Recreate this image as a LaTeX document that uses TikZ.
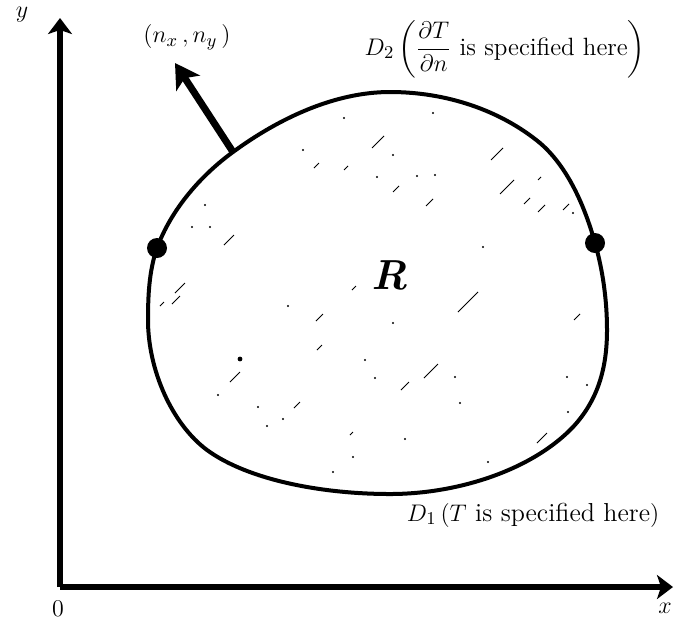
\documentclass[tikz,border=0pt]{standalone}
\usepackage{amsmath}
\usetikzlibrary{arrows.meta, positioning, calc}

\begin{document}
\begin{tikzpicture}[x=0.5pt, y=-0.5pt,
    axis/.style={line width=3pt, -{Stealth[length=8pt, width=12pt, inset=2pt]}},
    boundary/.style={line width=2pt, line join=round},
    normal/.style={line width=3.5pt, -{Stealth[length=12pt, width=14pt, inset=3pt]}},
    bdot/.style={circle, fill, inner sep=0pt, minimum size=10pt},
    hatch/.style={line width=0.5pt},
    lbl/.style={font=\fontsize{13}{15}\selectfont, inner sep=0pt}]
    \useasboundingbox (0,0) rectangle (683,622);
    % axes
    \coordinate (O) at (60,587);
    \coordinate (ytip) at (60,18);
    \coordinate (xtip) at (673,587);
    \draw[axis] (O) -- (ytip);
    \draw[axis] (O) -- (xtip);
    \node[lbl] (ylab) at (22,15) {$y$};
    \node[lbl] (xlab) at (665,608) {$x$};
    \node[lbl, font=\fontsize{12}{14}\selectfont] (zero) at (58,609) {0};
    % region R
    \coordinate (Lp) at (157,248);
    \coordinate (P) at (233,152);
    \coordinate (Rp) at (595,243);
    \draw[boundary] (148,320) .. controls (148,296) and (149,271) .. (Lp)
        .. controls (171,210) and (200,176) .. (P)
        .. controls (278,119) and (334,92) .. (390,92)
        .. controls (446,92) and (500,110) .. (540,143)
        .. controls (568,167) and (585,207) .. (Rp)
        .. controls (603,271) and (607,301) .. (607,330)
        .. controls (607,368) and (598,400) .. (573,427)
        .. controls (532,470) and (458,494) .. (390,494)
        .. controls (322,494) and (248,480) .. (207,450)
        .. controls (172,424) and (148,370) .. cycle;
    \foreach \x/\y/\l in {372/148/12, 491/160/12, 500/194/14, 538/212/7,
        524/204/6, 224/245/10, 426/206/7, 393/192/6, 314/168/5, 344/170/4,
        175/293/10, 172/304/8, 160/306/4, 316/321/7, 317/350/5, 230/382/10,
        424/378/14, 401/390/8, 458/312/20, 294/408/6, 537/443/10, 574/320/6,
        350/435/3, 563/210/6, 383/270/6, 352/290/4, 538/180/3}
        \draw[hatch] (\x,\y) -- ++(\l,-\l);
    \foreach \x/\y in {344/118, 433/113, 303/150, 393/155, 377/177, 417/176,
        435/175, 483/247, 573/213, 205/205, 210/227, 192/227, 288/306,
        393/323, 365/360, 375/378, 218/395, 258/407, 267/426, 283/419,
        405/439, 353/457, 333/472, 488/462, 567/377, 587/385, 568/412,
        460/403, 455/377}
        \fill (\x,\y) circle (0.6pt);
    \fill (240,359) circle (1.2pt);
    \node[font=\fontsize{21}{24}\selectfont\bfseries\itshape] (R) at (390,275) {R};
    % boundary points and labels
    \node[bdot] (LpDot) at (Lp) {};
    \node[bdot] (RpDot) at (Rp) {};
    \coordinate (N) at (175,63);
    \draw[normal] (P) -- (N);
    \node[lbl] (nlab) at (187,37) {$\left(n_x\,,n_y\,\right)$};
    \node[lbl, font=\fontsize{12.5}{15}\selectfont] (D2) at (505,49) {$D_2\left(\dfrac{\partial T}{\partial n}\text{ is specified here}\right)$};
    \node[lbl] (D1) at (533,515) {$D_1\left(T\text{ is specified here}\right)$};
\end{tikzpicture}
\end{document}
